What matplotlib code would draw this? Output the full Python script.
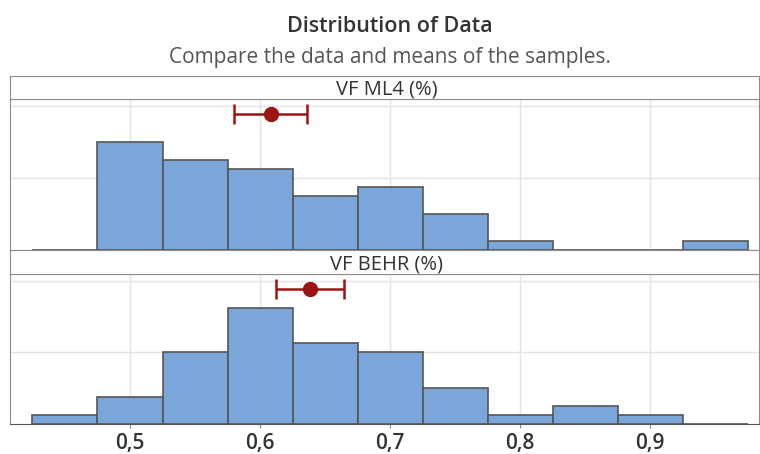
import numpy as np
import matplotlib.pyplot as plt

plt.rcParams['font.family'] = ['Open Sans', 'DejaVu Sans']

# histogram bins (centres) shared by both samples
bin_centers = [0.45, 0.50, 0.55, 0.60, 0.65, 0.70, 0.75, 0.80, 0.85, 0.90, 0.95]
bin_width = 0.05

ml4_counts = [0, 12, 10, 9, 6, 7, 4, 1, 0, 0, 1]
behr_counts = [1, 3, 8, 13, 9, 8, 4, 1, 2, 1, 0]

# mean and 95% CI of the mean
ml4_mean = [0.6085, 0.5802, 0.6358]
behr_mean = [0.6385, 0.6123, 0.6649]

panel_names = ['VF ML4 (%)', 'VF BEHR (%)']
x_ticks = [0.5, 0.6, 0.7, 0.8, 0.9]
x_labels = ['0,5', '0,6', '0,7', '0,8', '0,9']

bar_color = '#7BA6D9'
edge_color = '#555555'
mean_color = '#9B1515'
frame_color = '#8C8C8C'
grid_color = '#E4E4E4'

fig = plt.figure(figsize=(7.6, 4.54), dpi=100)
fig.text(0.513, 1 - 32 / 454, 'Distribution of Data', ha='center', va='baseline',
         fontsize=15.5, fontweight='semibold', color='#333333')
fig.text(0.513, 1 - 63 / 454, 'Compare the data and means of the samples.',
         ha='center', va='baseline', fontsize=15, color='#555555')

left = 10 / 760
width = 749 / 760
# (strip top, axes top, axes bottom) in pixels
rows = [(76, 99, 250), (250, 274, 423.5)]
data = [(ml4_counts, ml4_mean), (behr_counts, behr_mean)]

for i, ((s_top, a_top, a_bot), (counts, mean)) in enumerate(zip(rows, data)):
    ax = fig.add_axes([left, 1 - a_bot / 454, width, (a_bot - a_top) / 454])
    ax.bar(bin_centers, counts, width=bin_width, color=bar_color,
           edgecolor=edge_color, linewidth=1.2, zorder=3)
    ax.errorbar(mean[0], 15.1, xerr=[[mean[0] - mean[1]], [mean[2] - mean[0]]],
                fmt='o', color=mean_color, markersize=10, elinewidth=1.8,
                capsize=7, capthick=1.8, zorder=4)
    ax.set_xlim(0.4077, 0.9838)
    ax.set_ylim(0, 16.8)
    ax.set_yticks([8, 16])
    ax.set_yticklabels([])
    ax.set_xticks(x_ticks)
    ax.grid(True, color=grid_color, linewidth=1, zorder=0)
    ax.tick_params(axis='y', length=0)
    for sp in ax.spines.values():
        sp.set_color(frame_color)
    if i == 0:
        ax.set_xticklabels([])
        ax.tick_params(axis='x', length=0)
    else:
        ax.set_xticklabels(x_labels, fontsize=15, fontweight='semibold',
                           color='#333333')
        ax.spines['bottom'].set_color('#555555')
        ax.tick_params(axis='x', length=3, color=frame_color, pad=4)

    strip = fig.add_axes([left, 1 - a_top / 454, width, (a_top - s_top) / 454])
    strip.set_xticks([])
    strip.set_yticks([])
    for sp in strip.spines.values():
        sp.set_color(frame_color)
    strip.text(0.503, 0.4, panel_names[i], ha='center', va='center',
               fontsize=14.5, color='#333333', transform=strip.transAxes)

fig.savefig('out.png', dpi=100)
